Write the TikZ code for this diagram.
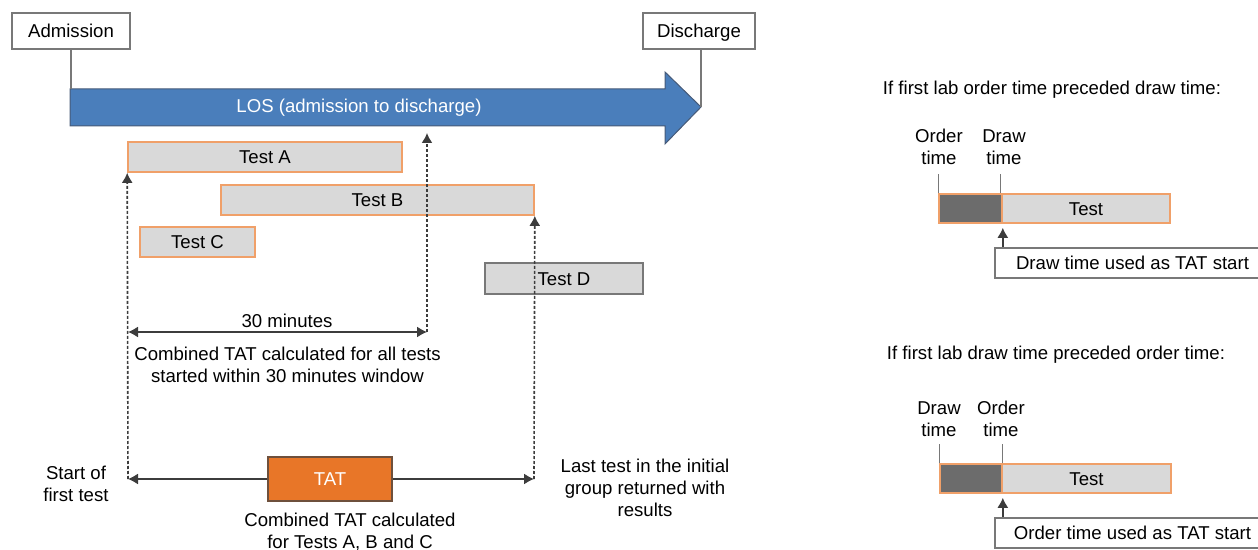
\documentclass[tikz,border=0pt]{standalone}
\usepackage{fontspec}
\setmainfont{Liberation Sans}
\usetikzlibrary{arrows.meta}
\definecolor{losblue}{RGB}{74,126,187}
\definecolor{arrowedge}{RGB}{70,90,120}
\definecolor{boxgray}{RGB}{120,120,120}
\definecolor{testgray}{RGB}{217,217,217}
\definecolor{testorange}{RGB}{240,160,105}
\definecolor{tatorange}{RGB}{232,118,40}
\definecolor{tatedge}{RGB}{110,80,60}
\definecolor{darkfill}{RGB}{108,108,108}
\definecolor{linegray}{RGB}{60,60,60}
\begin{document}
\begin{tikzpicture}[x=0.5pt,y=-0.5pt,
  font=\fontsize{9.3}{11}\selectfont,
  lbl/.style={align=center, inner sep=0pt},
  labelbox/.style={draw=boxgray, line width=0.8pt, fill=white, inner sep=0pt, text height=6.7pt, text depth=0pt},
  testbox/.style={draw=testorange, line width=0.8pt, fill=testgray, inner sep=0pt, minimum height=15pt, text height=6.7pt, text depth=0pt},
  greybox/.style={draw=boxgray, line width=0.8pt, fill=testgray, inner sep=0pt, minimum height=15.5pt, text height=6.7pt, text depth=0pt},
  darkbox/.style={draw=testorange, line width=0.8pt, fill=darkfill, inner sep=0pt, minimum height=14.5pt},
  tatbox/.style={draw=tatedge, line width=0.8pt, fill=tatorange, text=white, inner sep=0pt, text height=6.7pt, text depth=0pt},
  dline/.style={draw=linegray, line width=0.8pt, dash pattern=on 1.5pt off 1pt},
  sline/.style={draw=linegray, line width=0.7pt},
  tip/.style={-{Latex[length=5pt,width=5.5pt]}},
  tickline/.style={draw=boxgray, line width=0.6pt}
]
\useasboundingbox (0,0) rectangle (1258,550);

% top boxes
\node[labelbox, minimum width=59pt, minimum height=18pt] (adm) at (71,31) {Admission};
\node[labelbox, minimum width=56pt, minimum height=18pt] (dis) at (699,31) {Discharge};

% LOS arrow
\coordinate (lostl) at (70,89);
\coordinate (lostip) at (701,107);
\filldraw[fill=losblue, draw=arrowedge, line width=0.5pt]
  (lostl) -- (665,89) -- (665,72) -- (lostip) -- (665,144) -- (665,126) -- (70,126) -- cycle;
\node[lbl, text=white] (los) at (359,108) {LOS (admission to discharge)};
\draw[tickline, line width=0.8pt] (adm.south) -- (adm.south |- lostl);
\draw[tickline, line width=0.8pt] (dis.south -| lostip) -- (lostip);

% tests
\node[testbox, minimum width=137pt] (A) at (265,157) {Test A};
\node[testbox, minimum width=156.5pt] (B) at (377.5,200) {Test B};
\node[testbox, minimum width=57.5pt] (C) at (197.5,242) {Test C};

% dashed lines
\coordinate (s1) at (128,479);
\coordinate (e1) at (534,479);
\coordinate (m1) at (427,332);
\coordinate (m2) at (427,133);
\draw[dline, tip] (s1) -- (A.south west);
\draw[dline, tip] (m1) -- (m2);

\node[greybox, minimum width=79pt] (D) at (564,278.5) {Test D};
\draw[dline, tip] (e1) -- (B.south east);

% 30 minutes
\coordinate (t0) at (128,332);
\draw[sline, {Latex[length=5pt,width=5.5pt]}-{Latex[length=5pt,width=5.5pt]}] (t0) -- (m1);
\node[lbl] (thirty) at (287,321) {30 minutes};
\node[lbl] (comb1) at (287.5,365) {Combined TAT calculated for all tests\\started within 30 minutes window};

% TAT
\node[tatbox, minimum width=62pt, minimum height=22pt] (tat) at (330,479) {TAT};
\draw[sline, tip] (tat.west) -- (s1);
\draw[sline, tip] (tat.east) -- (e1);
\node[lbl] (start) at (76,484) {Start of\\first test};
\node[lbl] (last) at (645,488) {Last test in the initial\\group returned with\\results};
\node[lbl] (comb2) at (350,532) {Combined TAT calculated\\for Tests A, B and C};

% right panel 1
\node[lbl] (h1) at (1052,90) {If first lab order time preceded draw time:};
\node[darkbox, minimum width=31.5pt] (d1) at (970.5,208.5) {};
\node[testbox, minimum width=84pt, minimum height=14.5pt] (r1) at (1086,208.5) {Test};
\node[lbl] (ot1) at (939,147) {Order\\time};
\node[lbl] (dt1) at (1004,147) {Draw\\time};
\draw[tickline] (d1.north west) -- ++(0,-19);
\draw[tickline] ([xshift=-1pt]d1.north east) -- ++(0,-19);
\node[labelbox, minimum width=137.5pt, minimum height=15pt] (u1) at (1132.5,263) {Draw time used as TAT start};
\draw[sline, tip] (u1.north west -| d1.south east) -- ([yshift=-2pt]d1.south east);

% right panel 2
\node[lbl] (h2) at (1056,355) {If first lab draw time preceded order time:};
\node[darkbox, minimum width=31pt] (d2) at (971,478.5) {};
\node[testbox, minimum width=84.5pt, minimum height=14.5pt] (r2) at (1086.5,478.5) {Test};
\node[lbl] (dt2) at (939,419) {Draw\\time};
\node[lbl] (ot2) at (1001,419) {Order\\time};
\draw[tickline] (d2.north west) -- ++(0,-19);
\draw[tickline] (d2.north east) -- ++(0,-19);
\node[labelbox, minimum width=137.5pt, minimum height=15pt] (u2) at (1132.5,533) {Order time used as TAT start};
\draw[sline, tip] (u2.north west -| d2.south east) -- ([yshift=-2pt]d2.south east);
\end{tikzpicture}
\end{document}
